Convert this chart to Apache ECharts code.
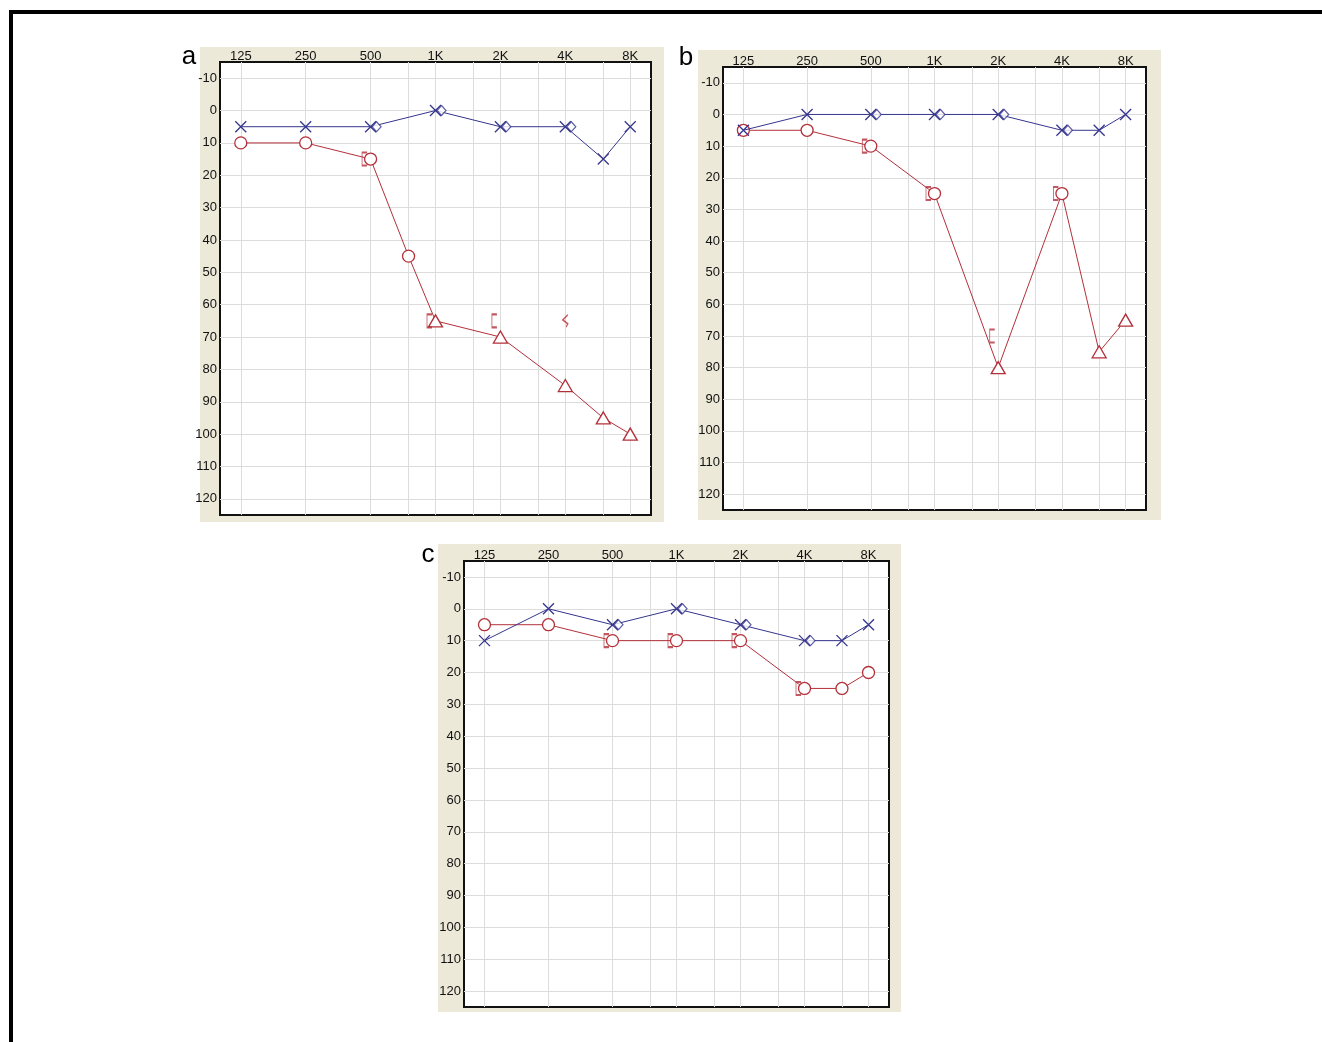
<!DOCTYPE html>
<html>
<head>
<meta charset="utf-8">
<script src="https://cdn.jsdelivr.net/npm/echarts@6/dist/echarts.min.js"></script>
<style>
html, body { margin: 0; padding: 0; background: #fff; }
#main { width: 1322px; height: 1042px; }
</style>
</head>
<body>
<div id="main"></div>
<script>
// axis ticks
const freqLabels = ['125', '250', '500', '1K', '2K', '4K', '8K'];
const freqTicks = [125, 250, 500, 1000, 2000, 4000, 8000];
const gridFreqs = [125, 250, 500, 750, 1000, 1500, 2000, 3000, 4000, 6000, 8000];
const dbTicks = [-10, 0, 10, 20, 30, 40, 50, 60, 70, 80, 90, 100, 110, 120];

// panel a
const aLeftFreq = [125, 250, 500, 1000, 2000, 4000, 6000, 8000];
const aLeftDb = [5, 5, 5, 0, 5, 5, 15, 5];
const aDiamondFreq = [500, 1000, 2000, 4000];
const aDiamondDb = [5, 0, 5, 5];
const aRightFreq = [125, 250, 500, 750, 1000, 2000, 4000, 6000, 8000];
const aRightDb = [10, 10, 15, 45, 65, 70, 85, 95, 100];
const aRightMark = ['o', 'o', 'o', 'o', 't', 't', 't', 't', 't'];
const aBracketFreq = [500, 1000, 2000];
const aBracketDb = [15, 65, 65];
const aOtherFreq = [4000];
const aOtherDb = [65];

// panel b
const bLeftFreq = [125, 250, 500, 1000, 2000, 4000, 6000, 8000];
const bLeftDb = [5, 0, 0, 0, 0, 5, 5, 0];
const bDiamondFreq = [500, 1000, 2000, 4000];
const bDiamondDb = [0, 0, 0, 5];
const bRightFreq = [125, 250, 500, 1000, 2000, 4000, 6000, 8000];
const bRightDb = [5, 5, 10, 25, 80, 25, 75, 65];
const bRightMark = ['o', 'o', 'o', 'o', 't', 'o', 't', 't'];
const bBracketFreq = [500, 1000, 2000, 4000];
const bBracketDb = [10, 25, 70, 25];

// panel c
const cLeftFreq = [125, 250, 500, 1000, 2000, 4000, 6000, 8000];
const cLeftDb = [10, 0, 5, 0, 5, 10, 10, 5];
const cDiamondFreq = [500, 1000, 2000, 4000];
const cDiamondDb = [5, 0, 5, 10];
const cRightFreq = [125, 250, 500, 1000, 2000, 4000, 6000, 8000];
const cRightDb = [5, 5, 10, 10, 10, 25, 25, 20];
const cRightMark = ['o', 'o', 'o', 'o', 'o', 'o', 'o', 'o'];
const cBracketFreq = [500, 1000, 2000, 4000];
const cBracketDb = [10, 10, 10, 25];

const RED = '#b3303a'
const BLUE = '#36368e'
const BEIGE = '#ece9d8'
const SYM_X = 'path://M0,0L10,10M10,0L0,10'
const SYM_DIAMOND = 'path://M5,0L10,5L5,10L0,5Z'
const SYM_BRACKET = 'path://M4,0L0,0L0,12L4,12'
const SYM_OTHER = 'path://M4,0L1,5L4,9L3,12'

const oct = f => Math.log2(f / 125)
const pairs = (fs, ds) => fs.map((f, k) => [oct(f), ds[k]])

const panels = [
  { letter: 'a', grid: [220, 62, 431, 453], bg: [200, 47, 464, 475], lab: [189, 57],
    left: [aLeftFreq, aLeftDb], dia: [aDiamondFreq, aDiamondDb], right: [aRightFreq, aRightDb, aRightMark],
    br: [aBracketFreq, aBracketDb], other: [aOtherFreq, aOtherDb] },
  { letter: 'b', grid: [723, 67, 423, 443], bg: [698, 50, 463, 470], lab: [686, 58],
    left: [bLeftFreq, bLeftDb], dia: [bDiamondFreq, bDiamondDb], right: [bRightFreq, bRightDb, bRightMark],
    br: [bBracketFreq, bBracketDb], other: null },
  { letter: 'c', grid: [464, 561, 425, 446], bg: [438, 544, 463, 468], lab: [428, 555],
    left: [cLeftFreq, cLeftDb], dia: [cDiamondFreq, cDiamondDb], right: [cRightFreq, cRightDb, cRightMark],
    br: [cBracketFreq, cBracketDb], other: null }
]

const labelStyle = { fontSize: 13, color: '#111', fontFamily: 'Liberation Sans' }

let grids = [], xAxes = [], yAxes = [], series = [], graphics = []

// outer frame
graphics.push({ type: 'rect', shape: { x: 9, y: 10, width: 1313, height: 4 }, style: { fill: '#000' }, z: -10 })
graphics.push({ type: 'rect', shape: { x: 9, y: 10, width: 4, height: 1032 }, style: { fill: '#000' }, z: -10 })

panels.forEach((p, i) => {
  graphics.push({ type: 'rect', shape: { x: p.bg[0], y: p.bg[1], width: p.bg[2], height: p.bg[3] }, style: { fill: BEIGE }, z: -10 })
  graphics.push({ type: 'text', x: p.lab[0], y: p.lab[1],
    style: { text: p.letter, fontSize: 26, fontFamily: 'Liberation Sans', fill: '#000', align: 'center', verticalAlign: 'middle' } })

  grids.push({ left: p.grid[0], top: p.grid[1], width: p.grid[2], height: p.grid[3],
    show: true, backgroundColor: '#fff', borderColor: '#111', borderWidth: 2 })

  xAxes.push({
    gridIndex: i, type: 'value', position: 'top', min: -0.32, max: 6.32,
    axisLine: { show: false },
    axisTick: { show: false, customValues: gridFreqs.map(oct) },
    axisLabel: Object.assign({ customValues: freqTicks.map(oct), margin: -1,
      formatter: v => freqLabels[Math.round(v)] }, labelStyle),
    splitLine: { show: true, lineStyle: { color: '#dcdcdc', width: 1 } }
  })
  yAxes.push({
    gridIndex: i, type: 'value', inverse: true, min: -15, max: 125,
    axisLine: { show: false },
    axisTick: { show: false, customValues: dbTicks },
    axisLabel: Object.assign({ customValues: dbTicks, margin: 3 }, labelStyle),
    splitLine: { show: true, lineStyle: { color: '#dcdcdc', width: 1 } }
  })

  // right ear (red)
  series.push({
    type: 'line', xAxisIndex: i, yAxisIndex: i, z: 3, animation: false,
    data: p.right[0].map((f, k) => ({
      value: [oct(f), p.right[1][k]],
      symbol: p.right[2][k] === 'o' ? 'circle' : 'triangle',
      symbolSize: p.right[2][k] === 'o' ? 12 : [14, 12]
    })),
    lineStyle: { color: RED, width: 1 },
    itemStyle: { color: '#fff', borderColor: RED, borderWidth: 1.3 }
  })
  series.push({
    type: 'scatter', xAxisIndex: i, yAxisIndex: i, z: 4, animation: false,
    data: pairs(p.br[0], p.br[1]), symbol: SYM_BRACKET, symbolSize: [5, 13], symbolOffset: [-6, 0],
    itemStyle: { color: 'transparent', borderColor: RED, borderWidth: 1.3 }
  })
  if (p.other) {
    series.push({
      type: 'scatter', xAxisIndex: i, yAxisIndex: i, z: 4, animation: false,
      data: pairs(p.other[0], p.other[1]), symbol: SYM_OTHER, symbolSize: [5, 12],
      itemStyle: { color: 'transparent', borderColor: RED, borderWidth: 1.3 }
    })
  }

  // left ear (blue)
  series.push({
    type: 'line', xAxisIndex: i, yAxisIndex: i, z: 5, animation: false,
    data: pairs(p.left[0], p.left[1]), symbol: SYM_X, symbolSize: 11,
    lineStyle: { color: BLUE, width: 1 },
    itemStyle: { color: 'transparent', borderColor: BLUE, borderWidth: 1.3 }
  })
  series.push({
    type: 'scatter', xAxisIndex: i, yAxisIndex: i, z: 6, animation: false,
    data: pairs(p.dia[0], p.dia[1]), symbol: SYM_DIAMOND, symbolSize: [9, 10], symbolOffset: [6, 0],
    itemStyle: { color: '#fff', borderColor: BLUE, borderWidth: 1.2 }
  })
})

const chart = echarts.init(document.getElementById('main'))
chart.setOption({
  backgroundColor: '#fff',
  animation: false,
  graphic: graphics,
  grid: grids,
  xAxis: xAxes,
  yAxis: yAxes,
  series: series
})
</script>
</body>
</html>
